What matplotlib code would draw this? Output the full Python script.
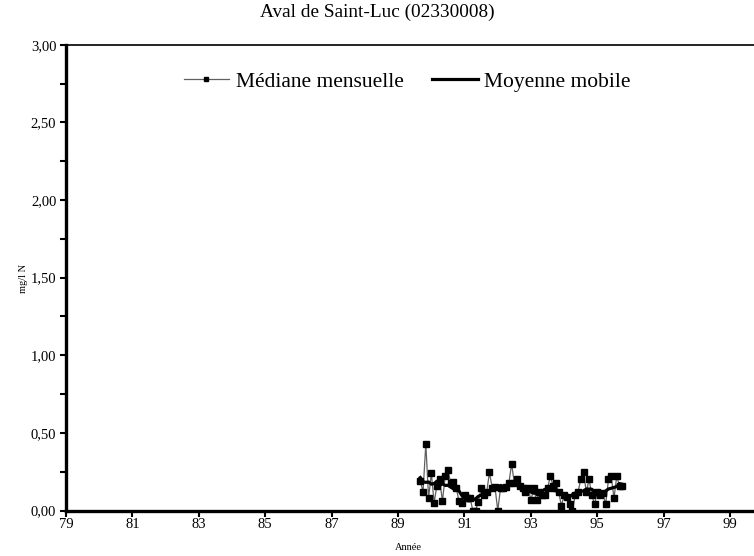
import numpy as np
import pandas as pd
import matplotlib
matplotlib.use("Agg")
import matplotlib.pyplot as plt
from matplotlib.ticker import FuncFormatter, MultipleLocator

plt.rcParams['font.family'] = ['Liberation Serif', 'DejaVu Serif']

title = "Aval de Saint-Luc (02330008)"
start_year = 89.67  # September 1989
median_values = [
    0.19, 0.12, 0.43, 0.08, 0.24, 0.05, 0.16, 0.20, 0.06, 0.22,
    0.26, 0.175, 0.185, 0.145, 0.06, 0.05, 0.10, 0.08, 0.08, 0.00,
    0.00, 0.057, 0.145, 0.10, 0.12, 0.245, 0.145, 0.15, 0.00, 0.145,
    0.145, 0.15, 0.175, 0.30, 0.175, 0.20, 0.16, 0.145, 0.12, 0.145,
    0.065, 0.145, 0.065, 0.12, 0.10, 0.10, 0.145, 0.22, 0.16, 0.175,
    0.12, 0.03, 0.10, 0.09, 0.04, 0.00, 0.10, 0.12, 0.20, 0.245,
    0.12, 0.20, 0.10, 0.04, 0.12, 0.10, 0.11, 0.04, 0.20, 0.22,
    0.08, 0.22, 0.16, 0.16,
]
x_tick_labels = ["79", "81", "83", "85", "87", "89", "91", "93", "95", "97", "99"]
y_tick_values = [0.0, 0.5, 1.0, 1.5, 2.0, 2.5, 3.0]

years = start_year + np.arange(len(median_values)) / 12.0
medians = pd.Series(median_values)
moving_avg = medians.rolling(window=9, center=True, min_periods=1).mean()

fig = plt.figure(figsize=(7.54, 5.56), dpi=100)
ax = fig.add_axes([0.0875, 0.0818, 0.9125, 0.8378])

ax.plot(years, medians, color="#606060", lw=0.9, marker="s", ms=4.2,
        mfc="black", mec="black", label="Médiane mensuelle", zorder=3)
ax.plot(years, moving_avg, color="black", lw=2.3, label="Moyenne mobile", zorder=4)

ax.set_xlim(79, 99.72)
ax.set_ylim(0, 3)
ax.set_xticks([int(t) for t in x_tick_labels])
ax.set_xticklabels(x_tick_labels)
ax.set_yticks(y_tick_values)
ax.yaxis.set_major_formatter(FuncFormatter(lambda v, p: f"{v:.2f}".replace(".", ",")))
ax.yaxis.set_minor_locator(MultipleLocator(0.25))

ax.tick_params(axis="both", which="both", direction="out", labelsize=10.5, width=1.5)
ax.tick_params(axis="both", which="major", length=4)
ax.tick_params(axis="x", which="major", pad=1.5)
ax.tick_params(axis="y", which="major", pad=3)
ax.tick_params(axis="y", which="minor", length=4)

for side in ("left", "bottom"):
    ax.spines[side].set_linewidth(2.4)
ax.spines["top"].set_linewidth(1.2)
ax.spines["right"].set_visible(False)

fig.text(0.5, 1 - 12 / 556, title, fontsize=13.9, ha="center", va="center")
fig.text(24 / 754, 1 - 278 / 556, "mg/l N", fontsize=7.5, rotation=90,
         ha="center", va="center")
fig.text(408 / 754, 1 - 548 / 556, "Année", fontsize=7.5, ha="center", va="center")

ax.legend(loc="center", bbox_to_anchor=(0.496, 0.92), ncol=2, frameon=False,
          fontsize=15.5, handlelength=2.1, columnspacing=1.35, handletextpad=0.3,
          markerscale=0.7)

fig.savefig("out.png", dpi=100)
